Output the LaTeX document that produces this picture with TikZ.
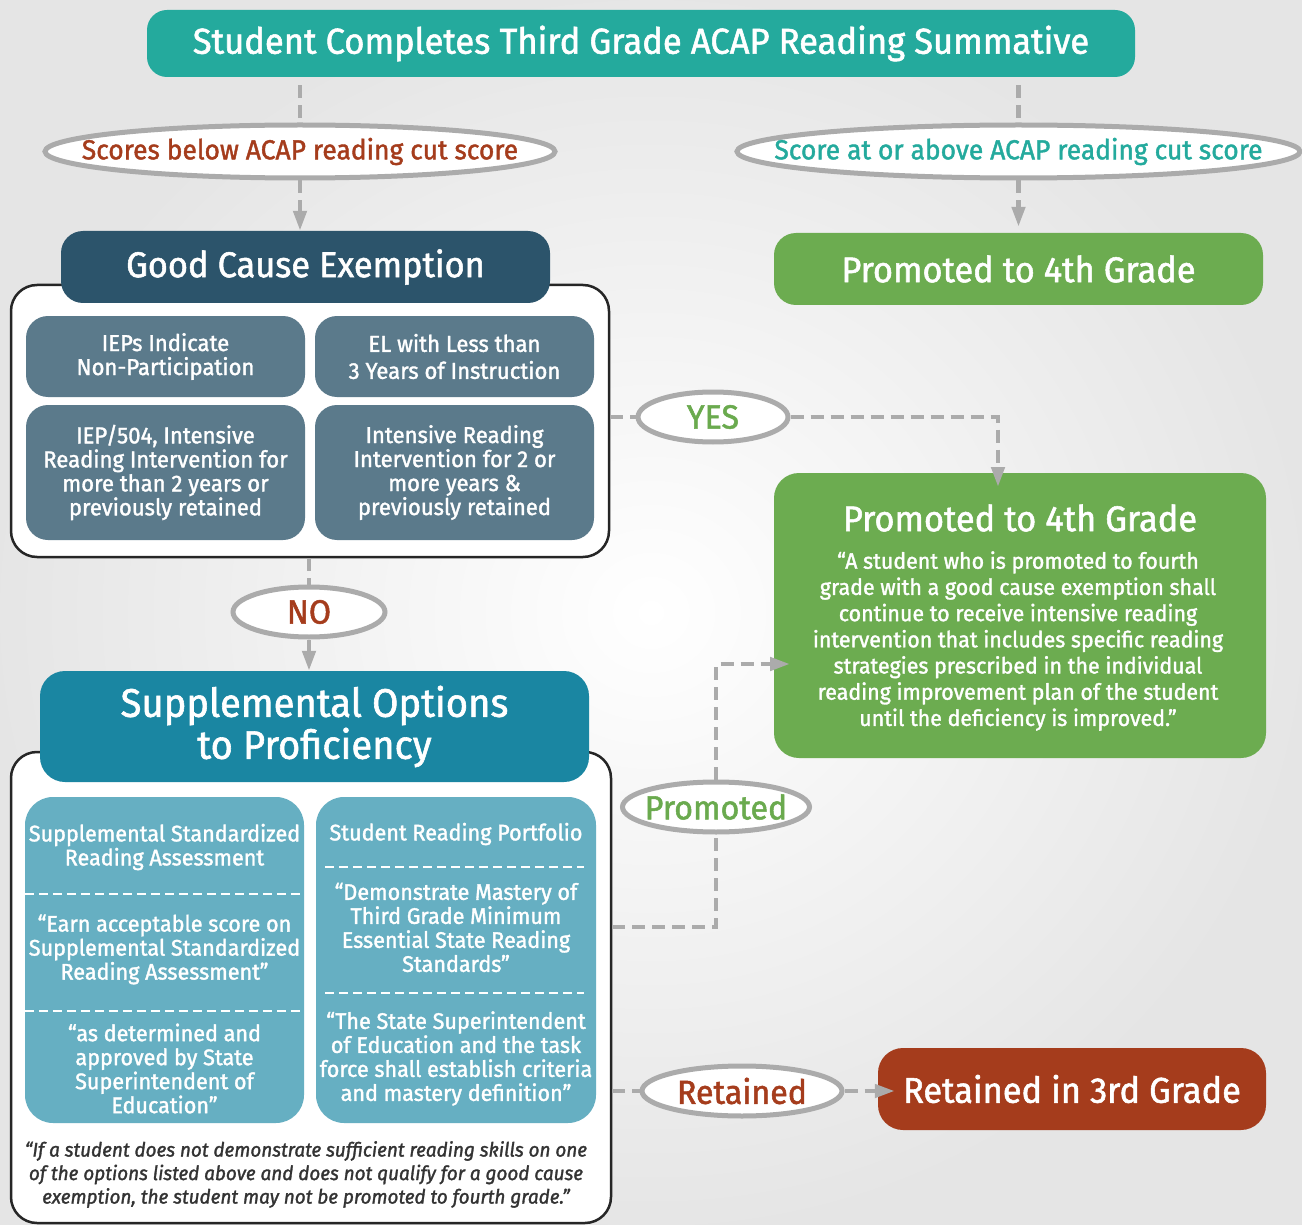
\documentclass[tikz,border=0pt]{standalone}
\usepackage{fontspec}
\setmainfont{Fira Sans}[FakeStretch=0.96,FakeBold=1.5]
\usetikzlibrary{shapes.geometric,arrows.meta,calc}
\definecolor{cTop}{HTML}{24AA9D}
\definecolor{cRed}{HTML}{A53C1C}
\definecolor{cDark}{HTML}{2C546B}
\definecolor{cSlate}{HTML}{5B7A8B}
\definecolor{cGreen}{HTML}{6CAC50}
\definecolor{cGreenTxt}{HTML}{6AAA4E}
\definecolor{cBlue}{HTML}{1A86A2}
\definecolor{cLight}{HTML}{66AFC2}
\definecolor{cLine}{HTML}{ABABAB}
\definecolor{cFoot}{HTML}{333333}
\begin{document}
\begin{tikzpicture}[x=1pt,y=-1pt,
  fillbox/.style={draw=none, rounded corners=22pt, inner sep=0pt, align=center, text=white},
  outerbox/.style={draw=black!85, line width=2.5pt, fill=white, rounded corners=26pt, inner sep=0pt},
  oval/.style={ellipse, draw=cLine, line width=5pt, fill=white, inner sep=0pt},
  conn/.style={draw=cLine, line width=4.5pt, dash pattern=on 13pt off 7pt},
  arr/.style={conn, -{Triangle[length=20pt,width=13pt]}},
  divider/.style={draw=white, line width=2.5pt, dash pattern=on 9pt off 5pt},
  fTitle/.style={font=\fontsize{36}{40}\selectfont},
  fHead/.style={font=\fontsize{35.8}{40}\selectfont},
  fOval/.style={font=\fontsize{27.5}{30}\selectfont},
  fBig/.style={font=\fontsize{33.5}{36}\selectfont},
  fInner/.style={font=\fontsize{23}{24}\selectfont},
  fSup/.style={font=\fontsize{22.5}{24}\selectfont},
  fQuote/.style={font=\fontsize{22.3}{26.2}\selectfont},
  fFoot/.style={font=\itshape\fontsize{19.7}{23.5}\selectfont},
]
\useasboundingbox (0,0) rectangle (1302,1225);
\shade[inner color=white, outer color=black!10] (0,0) rectangle (1302,1225);

% top
\node[fillbox, fill=cTop, rounded corners=20pt, minimum width=988pt, minimum height=67pt, fTitle] (top) at (641,43.5) {Student Completes Third Grade ACAP Reading Summative};

% ovals top
\node[oval, minimum width=510pt, minimum height=53pt, label={[fOval, text=cRed]center:Scores below ACAP reading cut score}] (lowE) at (300,151.5) {};
\node[oval, minimum width=563pt, minimum height=53pt, label={[fOval, text=cTop]center:Score at or above ACAP reading cut score}] (highE) at (1018.5,151.5) {};

% promoted top
\node[fillbox, fill=cGreen, minimum width=489pt, minimum height=72pt, fHead] (prom1) at (1018.5,269) {Promoted to 4th Grade};

% good cause exemption
\node[outerbox, minimum width=598pt, minimum height=272pt] (gcebox) at (310,421) {};
\node[fillbox, fill=cDark, minimum width=489pt, minimum height=72pt, fHead] (gce) at (305.5,267) {Good Cause Exemption};
\node[fillbox, fill=cSlate, minimum width=279pt, minimum height=81pt, fInner] (gA) at (165.5,356.5) {IEPs Indicate\\Non-Participation};
\node[fillbox, fill=cSlate, minimum width=279pt, minimum height=81pt, fInner] (gB) at (454.5,356.5) {EL with Less than\\[3pt]3 Years of Instruction};
\node[fillbox, fill=cSlate, minimum width=279pt, minimum height=135pt, fInner] (gC) at (165.5,472.5) {IEP/504, Intensive\\Reading Intervention for\\more than 2 years or\\previously retained};
\node[fillbox, fill=cSlate, minimum width=279pt, minimum height=135pt, fInner] (gD) at (454.5,472.5) {Intensive Reading\\Intervention for 2 or\\more years \&\\previously retained};

% YES
\node[oval, minimum width=150pt, minimum height=50pt, label={[fBig, text=cGreenTxt]center:YES}] (yes) at (713,417) {};

% big green
\node[fillbox, fill=cGreen, rounded corners=25pt, minimum width=492pt, minimum height=285pt] (big) at (1020,615.5) {};
\node[fHead, text=white] (bigT) at (1020,518) {Promoted to 4th Grade};
\node[fQuote, text=white, align=center] (bigQ) at (1018,641) {“A student who is promoted to fourth\\grade with a good cause exemption shall\\continue to receive intensive reading\\intervention that includes specific reading\\strategies prescribed in the individual\\reading improvement plan of the student\\until the deficiency is improved.”};

% NO
\node[oval, minimum width=152pt, minimum height=50pt, label={[fBig, text=cRed]center:NO}] (no) at (309,612) {};

% supplemental
\node[outerbox, minimum width=600pt, minimum height=471pt] (supbox) at (311,987.5) {};
\node[fillbox, fill=cBlue, rounded corners=25pt, minimum width=549pt, minimum height=111pt, font=\fontsize{39.8}{42}\selectfont] (sup) at (314.5,726.5) {Supplemental Options\\to Proficiency};
\node[fillbox, fill=cLight, rounded corners=28pt, minimum width=279pt, minimum height=326pt] (sL) at (164.5,960) {};
\node[fillbox, fill=cLight, rounded corners=28pt, minimum width=280pt, minimum height=326pt] (sR) at (456,960) {};
\node[fSup, text=white, align=center] (sL1) at (164.5,847) {Supplemental Standardized\\Reading Assessment};
\node[fSup, text=white, align=center] (sL2) at (164.5,949.5) {“Earn acceptable score on\\Supplemental Standardized\\Reading Assessment”};
\node[fSup, text=white, align=center] (sL3) at (164.5,1068.5) {“as determined and\\approved by State\\Superintendent of\\Education”};
\node[fSup, text=white, align=center] (sR1) at (456,834) {Student Reading Portfolio};
\node[fSup, text=white, align=center] (sR2) at (456,927.5) {“Demonstrate Mastery of\\Third Grade Minimum\\Essential State Reading\\Standards”};
\node[fSup, text=white, align=center] (sR3) at (456,1058.5) {“The State Superintendent\\of Education and the task\\force shall establish criteria\\and mastery definition”};
\draw[divider] (sL.west |- 0,894) -- (300,894);
\draw[divider] (sL.west |- 0,1011) -- (300,1011);
\draw[divider] (325,867) -- (584,867);
\draw[divider] (325,993) -- (584,993);
\node[fFoot, text=cFoot, align=center] (foot) at (306,1174.5) {“If a student does not demonstrate sufficient reading skills on one\\of the options listed above and does not qualify for a good cause\\exemption, the student may not be promoted to fourth grade.”};

% Promoted oval
\node[oval, minimum width=187pt, minimum height=50pt, label={[fBig, text=cGreenTxt]center:Promoted}] (prom) at (716,807) {};

% Retained
\node[oval, minimum width=200pt, minimum height=50pt, label={[fBig, text=cRed]center:Retained}] (ret) at (742,1091) {};
\node[fillbox, fill=cRed, rounded corners=25pt, minimum width=388pt, minimum height=82pt, fHead] (retbox) at (1072,1089) {Retained in 3rd Grade};

% connectors
\draw[conn] ([yshift=-8pt]top.south -| lowE.north) -- (lowE.north);
\draw[arr] (lowE.south) -- (lowE.south |- gce.north);
\draw[conn] ([yshift=-8pt]top.south -| highE.north) -- (highE.north);
\draw[arr] (highE.south) -- ([yshift=6pt]prom1.north);

\coordinate (yesTurn) at (998,417);
\coordinate (yesEnd) at (998,487);
\draw[conn] (gcebox.east |- yes) -- (yes.west);
\draw[arr] (yes.east) -- (yesTurn) -- (yesEnd);

\draw[conn] (gcebox.south -| no) -- (no.north);
\draw[arr] (no.south) -- (no.south |- sup.north);

\coordinate (pA) at (716,927);
\coordinate (pB) at (716,664);
\coordinate (pEnd) at (790,664);
\draw[conn] (supbox.east |- pA) -- (pA) -- (prom.south);
\draw[arr] (prom.north) -- (pB) -- (pEnd);

\draw[conn] (supbox.east |- ret) -- (ret.west);
\draw[arr] (ret.east) -- ($(ret.east -| retbox.west)+(17,0)$);
\end{tikzpicture}
\end{document}
